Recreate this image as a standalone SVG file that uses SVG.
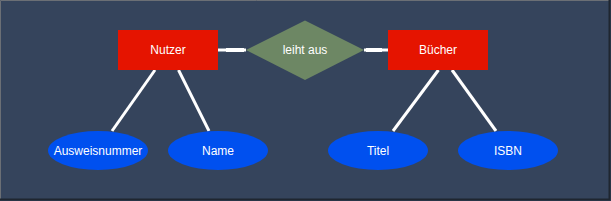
<svg xmlns="http://www.w3.org/2000/svg" width="611" height="201" viewBox="0 0 611 201">
<style>
.ent{fill:#e51400}
.rel{fill:#6d8764}
.attr{fill:#0050ef}
.lbl{font-family:"Liberation Sans",Arial,sans-serif;font-size:12px;fill:#ffffff;text-anchor:middle;dominant-baseline:central}
.conn{stroke:#ffffff;stroke-width:3;fill:none}
.thick{stroke:#ffffff;stroke-width:4;fill:none}
</style>
<rect x="0" y="0" width="611" height="201" fill="#35445c"/>
<path d="M0.5 200 V0.5 H610" stroke="#6b6f75" stroke-width="1" fill="none"/>
<path d="M609.5 0 V199.5 H0" stroke="#1f2630" stroke-width="2" fill="none"/>
<g id="connectors">
<line class="conn" x1="218" y1="50" x2="246" y2="50"/>
<line class="thick" x1="226" y1="50" x2="244" y2="50"/>
<line class="conn" x1="364" y1="50" x2="388" y2="50"/>
<line class="thick" x1="366" y1="50" x2="382" y2="50"/>
<line class="conn" x1="155" y1="70" x2="112" y2="131"/>
<line class="conn" x1="178.5" y1="70" x2="209" y2="131"/>
<line class="conn" x1="438.5" y1="70" x2="393" y2="131"/>
<line class="conn" x1="452" y1="70" x2="496" y2="131"/>
</g>
<g id="nutzer">
<rect class="ent" x="118" y="30" width="100" height="40"/>
<text class="lbl" x="168" y="50">Nutzer</text>
</g>
<g id="leiht-aus">
<polygon class="rel" points="305,20.5 364,50 305,80 246,50"/>
<text class="lbl" x="305" y="50">leiht aus</text>
</g>
<g id="buecher">
<rect class="ent" x="388" y="30" width="100" height="40"/>
<text class="lbl" x="438" y="50">Bücher</text>
</g>
<g id="ausweisnummer">
<ellipse class="attr" cx="98" cy="150.5" rx="50" ry="19.5"/>
<text class="lbl" x="98" y="150.5">Ausweisnummer</text>
</g>
<g id="name">
<ellipse class="attr" cx="218" cy="150.5" rx="50" ry="19.5"/>
<text class="lbl" x="218" y="150.5">Name</text>
</g>
<g id="titel">
<ellipse class="attr" cx="378" cy="150.5" rx="50" ry="19.5"/>
<text class="lbl" x="378" y="150.5">Titel</text>
</g>
<g id="isbn">
<ellipse class="attr" cx="508" cy="150.5" rx="50" ry="19.5"/>
<text class="lbl" x="508" y="150.5">ISBN</text>
</g>
</svg>
